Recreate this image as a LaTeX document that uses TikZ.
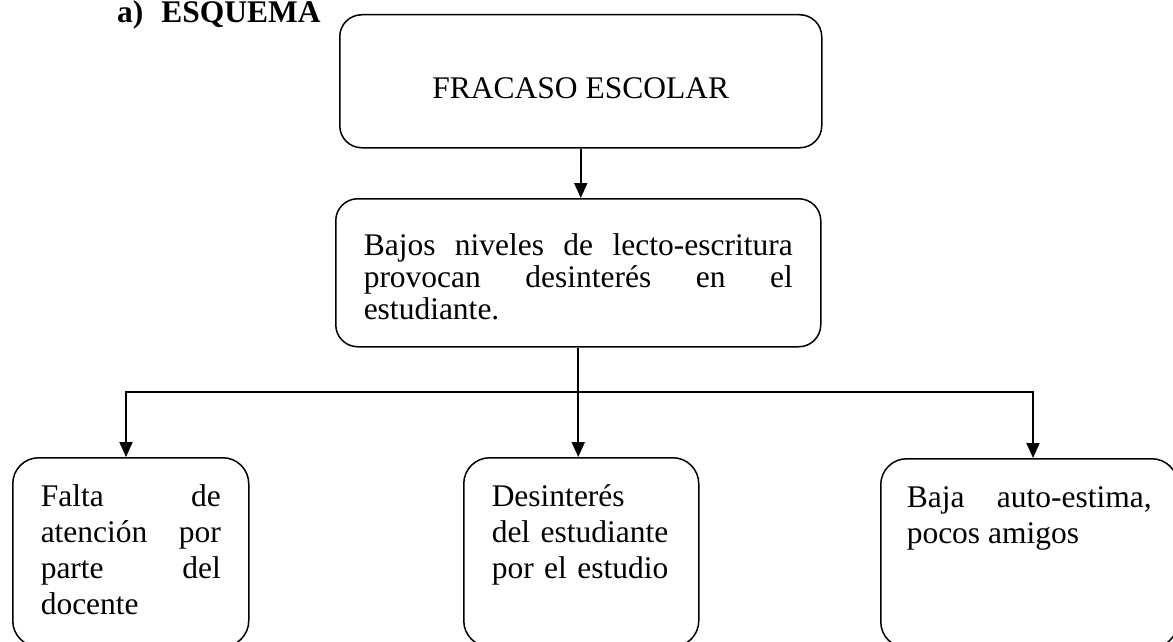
\documentclass[tikz,border=0pt]{standalone}
\usepackage{fontspec}
\setmainfont{Liberation Serif}
\usetikzlibrary{arrows.meta}
\hyphenpenalty=10000
\exhyphenpenalty=10000
\tikzset{
  caja/.style={draw, line width=1.5pt, rounded corners=22pt, anchor=north west,
    inner ysep=0pt, inner xsep=28pt},
  hoja/.style={caja, rounded corners=26pt, text height=49pt, text depth=140pt,
    font=\fontsize{31.5}{36}\selectfont},
  flecha/.style={line width=2pt, -{Triangle[length=15pt,width=13pt]}},
}
\begin{document}
\begin{tikzpicture}[x=1pt,y=-1pt,font=\fontsize{31.5}{32}\selectfont]
  \useasboundingbox (0,0) rectangle (1173,642);
  \node[anchor=base west,inner sep=0pt,font=\fontsize{31.5}{32}\selectfont\bfseries]
    (titulo) at (117,23) {a)\hspace{18pt}ESQUEMA};
  % cajas de arriba
  \node[caja,minimum width=482pt,text height=84pt,text depth=49pt]
    (fracaso) at (339,14) {FRACASO ESCOLAR};
  \node[caja,text width=429pt,align=justify,text height=57pt,text depth=91pt]
    (bajos) at (335,198) {Bajos niveles de lecto-escritura\linebreak
      provocan desinterés en el\linebreak estudiante.};
  % cajas de abajo
  \node[hoja,text width=180pt,align=justify] (falta) at (12,457)
    {Falta de\linebreak atención por\linebreak parte del\linebreak docente};
  \node[hoja,text width=179pt,align=left] (desint) at (463,457)
    {Desinterés\\ del estudiante\\ por el estudio};
  \node[hoja,inner xsep=26pt,text width=245pt,align=justify] (baja) at (880,458)
    {Baja auto-estima,\linebreak pocos amigos};
  % flechas
  \coordinate (ramaI) at (126,392);
  \coordinate (ramaD) at (1033,392);
  \draw[flecha] (fracaso.south) -- (fracaso.south |- bajos.north);
  \draw[flecha] (bajos.south) -- (bajos.south |- desint.north);
  \draw[line width=2pt,line cap=rect] (ramaI) -- (ramaD);
  \draw[flecha] (ramaI) -- (ramaI |- falta.north);
  \draw[flecha] (ramaD) -- (ramaD |- baja.north);
\end{tikzpicture}
\end{document}
